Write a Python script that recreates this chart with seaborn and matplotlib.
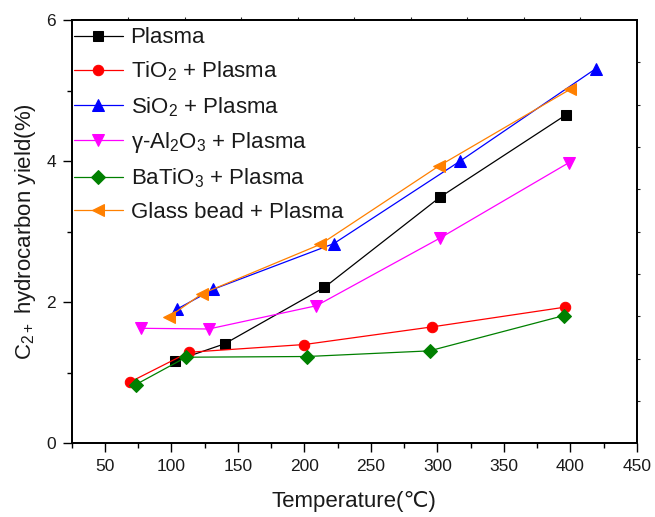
import numpy as np
import pandas as pd
import seaborn as sns
import matplotlib
matplotlib.use("Agg")
import matplotlib.pyplot as plt
from matplotlib.ticker import MultipleLocator

# ---- data ----
series_names = ["Plasma", "TiO$_2$ + Plasma", "SiO$_2$ + Plasma",
                "γ-Al$_2$O$_3$ + Plasma", "BaTiO$_3$ + Plasma", "Glass bead + Plasma"]

plasma_x = [103, 140, 215, 302, 397]
plasma_y = [1.17, 1.41, 2.21, 3.49, 4.66]

tio2_x = [69, 113, 200, 296, 396]
tio2_y = [0.87, 1.29, 1.40, 1.65, 1.93]

sio2_x = [104, 131, 222, 317, 419]
sio2_y = [1.90, 2.18, 2.83, 4.00, 5.31]

al2o3_x = [77, 128, 209, 302, 399]
al2o3_y = [1.63, 1.62, 1.95, 2.91, 3.98]

batio3_x = [73, 111, 202, 294, 395]
batio3_y = [0.83, 1.22, 1.23, 1.31, 1.81]

glass_x = [98, 123, 212, 301, 400]
glass_y = [1.79, 2.12, 2.82, 3.93, 5.02]

xs = [plasma_x, tio2_x, sio2_x, al2o3_x, batio3_x, glass_x]
ys = [plasma_y, tio2_y, sio2_y, al2o3_y, batio3_y, glass_y]

colors = ["#000000", "#FF0000", "#0000FF", "#FF00FF", "#008000", "#FF8000"]
markers = ["s", "o", "^", "v", "D", "<"]
msizes = [6.8, 7.5, 8.5, 8.5, 7.0, 8.5]

sns.set_theme(style="ticks")
plt.rcParams["font.family"] = ["Liberation Sans", "DejaVu Sans"]
plt.rcParams["mathtext.fontset"] = "custom"
plt.rcParams["mathtext.rm"] = "Liberation Sans"
plt.rcParams["mathtext.it"] = "Liberation Sans"
plt.rcParams["mathtext.default"] = "regular"

fig = plt.figure(figsize=(6.55, 5.17), dpi=100)
ax = fig.add_axes([0.1095, 0.1426, 0.8630, 0.8187])

for name, x, y, c, m, ms in zip(series_names, xs, ys, colors, markers, msizes):
    df = pd.DataFrame({"Temperature": x, "Yield": y})
    sns.lineplot(data=df, x="Temperature", y="Yield", ax=ax, color=c, marker=m,
                 markersize=ms, markeredgecolor=c, markerfacecolor=c,
                 linewidth=0.9, sort=False, label=name, estimator=None)

ax.set_xlim(25, 450)
ax.set_ylim(0, 6)
ax.xaxis.set_major_locator(MultipleLocator(50))
ax.xaxis.set_minor_locator(MultipleLocator(25))
ax.yaxis.set_major_locator(MultipleLocator(2))
ax.yaxis.set_minor_locator(MultipleLocator(1))
ax.set_xticks([50, 100, 150, 200, 250, 300, 350, 400, 450])
ax.tick_params(axis="both", which="major", direction="out", length=6.5, width=1.0,
               labelsize=12.5, color="black", labelcolor="#1a1a1a")
ax.tick_params(axis="x", which="major", pad=5)
ax.tick_params(axis="y", which="major", pad=5)
ax.tick_params(axis="both", which="minor", direction="out", length=3.5, width=1.0,
               color="black")
for s in ax.spines.values():
    s.set_linewidth(1.1)
    s.set_color("black")

ax.set_xlabel("Temperature(℃)", fontsize=16, color="#1a1a1a", labelpad=12)
ax.set_ylabel("C$_{2+}$ hydrocarbon yield(%)", fontsize=16, color="#1a1a1a", labelpad=6)

# unlabelled ticks on top and right frame
axt = ax.twiny()
axt.set_xlim(0, 1)
axt.set_xticks(np.arange(0.1, 1.0, 0.1))
axt.tick_params(axis="x", direction="out", length=2, width=0.8, labeltop=False)
axr = ax.twinx()
axr.set_ylim(0, 1)
axr.set_yticks(np.arange(0.1, 1.0, 0.1))
axr.tick_params(axis="y", direction="out", length=2, width=0.8, labelright=False)
for a in (axt, axr):
    for s in a.spines.values():
        s.set_linewidth(1.1)
        s.set_color("black")

leg = ax.legend(loc="upper left", bbox_to_anchor=(0.0, 0.988), frameon=False,
                fontsize=16, handlelength=2.2, handletextpad=0.35,
                labelspacing=0.52, borderaxespad=0.0, borderpad=0.1)
for t in leg.get_texts():
    t.set_color("#1a1a1a")

fig.savefig("out.png", dpi=100)
